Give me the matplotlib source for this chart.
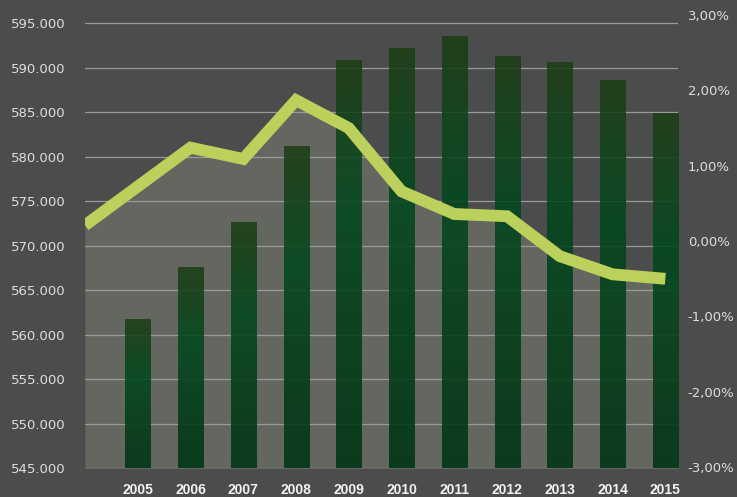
import matplotlib
matplotlib.use("Agg")
import matplotlib.pyplot as plt
import numpy as np

years = ["2005", "2006", "2007", "2008", "2009", "2010", "2011", "2012", "2013", "2014", "2015"]
population = [561700, 567500, 572600, 581100, 590800, 592100, 593500, 591200, 590600, 588500, 584800]

# growth line (right axis, %); first point sits on the left edge
growth_x = [-1, 1, 2, 3, 4, 5, 6, 7, 8, 9, 10]
growth = [0.21, 1.24, 1.09, 1.87, 1.50, 0.66, 0.36, 0.33, -0.20, -0.44, -0.50]

left_ticks = list(range(545000, 595001, 5000))
right_ticks = [-3, -2, -1, 0, 1, 2, 3]

bg = "#4b4d4c"
area_col = "#63675f"
line_col = "#bcd05c"

fig = plt.figure(figsize=(7.37, 4.97), dpi=100, facecolor=bg)
ax = fig.add_axes([85 / 737, 1 - 468 / 497, (678 - 85) / 737, (468 - 15) / 497])
ax.set_facecolor(bg)
ax2 = ax.twinx()
ax2.patch.set_visible(False)

xmin, xmax = -1, 10.24
ymin, ymax = 545000, 595900
pmin, pmax = -3.01, 3.0

# bar gradient, top -> bottom
stops = np.array([[30, 62, 22], [4, 72, 30], [0, 52, 20]]) / 255
n = 200
t = np.linspace(0, 1, n)
grad = np.zeros((n, 1, 4))
for c in range(3):
    grad[:, 0, c] = np.interp(t, [0, 0.35, 1], stops[:, c])
grad[:, 0, 3] = 0.88

w = 0.475
for i, v in enumerate(population):
    ax.imshow(grad, extent=(i - w / 2, i + w / 2, ymin, v), aspect="auto",
              interpolation="bilinear", zorder=2)

# area under the growth line
ax.fill_between(growth_x + [xmax], growth + [growth[-1]], pmin - 1,
                color=area_col, lw=0, zorder=0.3, transform=ax2.transData)
ax.plot(growth_x, growth, color=line_col, lw=8.5, solid_capstyle="butt",
        solid_joinstyle="miter", zorder=3, transform=ax2.transData, clip_on=True)

ax.set_xlim(xmin, xmax)
ax.set_ylim(ymin, ymax)
ax2.set_ylim(pmin, pmax)

ax.set_axisbelow(True)
ax.yaxis.grid(True, color="#9a9a9a", lw=0.9)
ax.set_yticks(left_ticks)
ax.set_yticklabels([f"{v:,}".replace(",", ".") for v in left_ticks])
ax2.set_yticks(right_ticks)
ax2.set_yticklabels([f"{v:.2f}".replace(".", ",") + "%" for v in right_ticks])
ax.set_xticks(range(len(years)))
ax.set_xticklabels(years, fontfamily=["Liberation Sans", "DejaVu Sans"],
                   fontweight="bold", fontsize=10)

for a in (ax, ax2):
    for s in a.spines.values():
        s.set_visible(False)
ax.tick_params(axis="y", length=0, pad=14, labelsize=9.5, labelcolor="#dedede")
ax2.tick_params(axis="y", length=0, pad=7, labelsize=9.5, labelcolor="#dedede")
ax.tick_params(axis="x", length=0, pad=11, labelcolor="#f2f2f2")

fig.savefig("out.png", dpi=100, facecolor=bg)
